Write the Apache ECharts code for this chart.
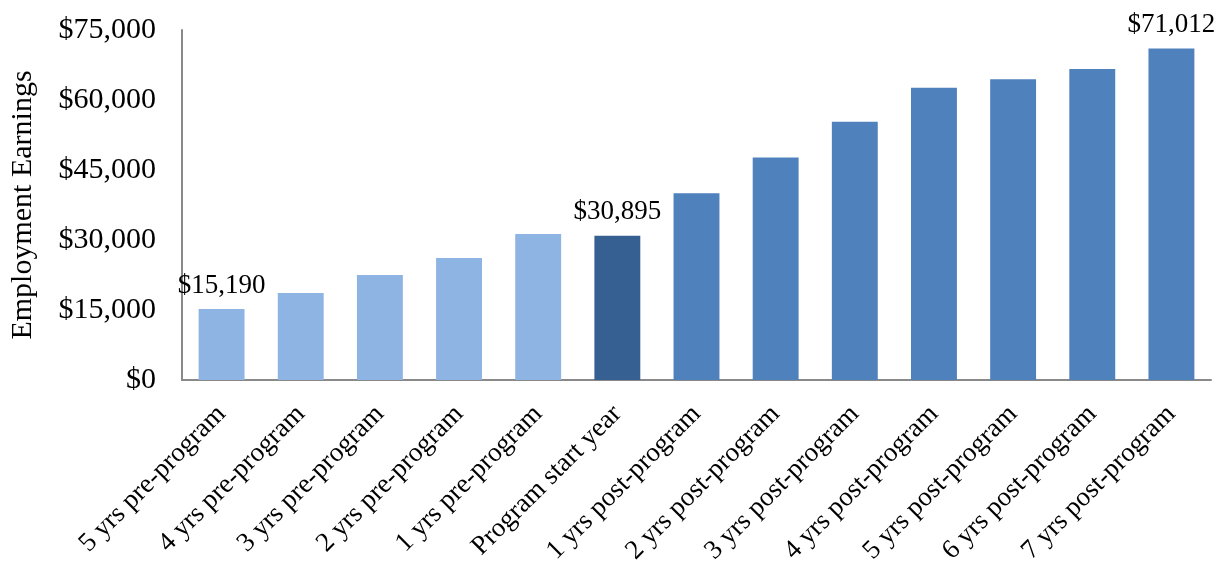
<!DOCTYPE html>
<html>
<head>
<meta charset="utf-8">
<title>Employment Earnings</title>
<script src="https://cdn.jsdelivr.net/npm/echarts@6/dist/echarts.min.js"></script>
<style>
    html, body { margin: 0; padding: 0; background: #fff; }
    #earningsChart { width: 1228px; height: 571px; }
</style>
</head>
<body>
<div id="earningsChart"></div>
<script>
// 数据
const periods = [
    '5 yrs pre-program', '4 yrs pre-program', '3 yrs pre-program', '2 yrs pre-program',
    '1 yrs pre-program', 'Program start year', '1 yrs post-program', '2 yrs post-program',
    '3 yrs post-program', '4 yrs post-program', '5 yrs post-program', '6 yrs post-program',
    '7 yrs post-program'
];
const earnings = [15190, 18640, 22500, 26140, 31290, 30895, 40000, 47700, 55350, 62650, 64450, 66650, 71012];
const labelledPeriods = ['5 yrs pre-program', 'Program start year', '7 yrs post-program'];
const yTicks = [0, 15000, 30000, 45000, 60000, 75000];

const serif = '"Liberation Serif", "Times New Roman", serif';
const money = v => '$' + Number(v).toLocaleString('en-US');

function barColor(name) {
    if (name.indexOf('pre-program') >= 0) return '#8EB4E3';
    if (name.indexOf('start') >= 0) return '#376092';
    return '#4F81BD';
}

const earningsChart = echarts.init(document.getElementById('earningsChart'));

earningsChart.setOption({
    animation: false,
    grid: {
        left: 182,
        right: 17,
        top: 30,
        bottom: 191,
        containLabel: false,
        outerBoundsMode: 'none'
    },
    xAxis: {
        type: 'category',
        data: periods,
        axisLine: {
            lineStyle: { color: '#898989', width: 2 }
        },
        axisTick: { show: false },
        axisLabel: {
            interval: 0,
            rotate: 45,
            margin: 30,
            color: '#000',
            fontFamily: serif,
            fontSize: 27
        }
    },
    yAxis: {
        type: 'value',
        min: yTicks[0],
        max: yTicks[yTicks.length - 1],
        interval: yTicks[1] - yTicks[0],
        name: 'Employment Earnings',
        nameLocation: 'middle',
        nameGap: 144,
        nameTextStyle: {
            color: '#000',
            fontFamily: serif,
            fontSize: 30
        },
        axisLine: {
            show: true,
            lineStyle: { color: '#898989', width: 2 }
        },
        axisTick: { show: false },
        splitLine: { show: false },
        axisLabel: {
            margin: 26,
            color: '#000',
            fontFamily: serif,
            fontSize: 30,
            formatter: money
        }
    },
    series: [
        {
            type: 'bar',
            barWidth: '58%',
            data: earnings.map((v, i) => ({
                value: v,
                itemStyle: { color: barColor(periods[i]) },
                label: { show: labelledPeriods.indexOf(periods[i]) >= 0 }
            })),
            label: {
                position: 'top',
                distance: 10,
                color: '#000',
                fontFamily: serif,
                fontSize: 27,
                formatter: p => money(p.value)
            }
        }
    ]
});

window.addEventListener('resize', function () {
    earningsChart.resize();
});
</script>
</body>
</html>
